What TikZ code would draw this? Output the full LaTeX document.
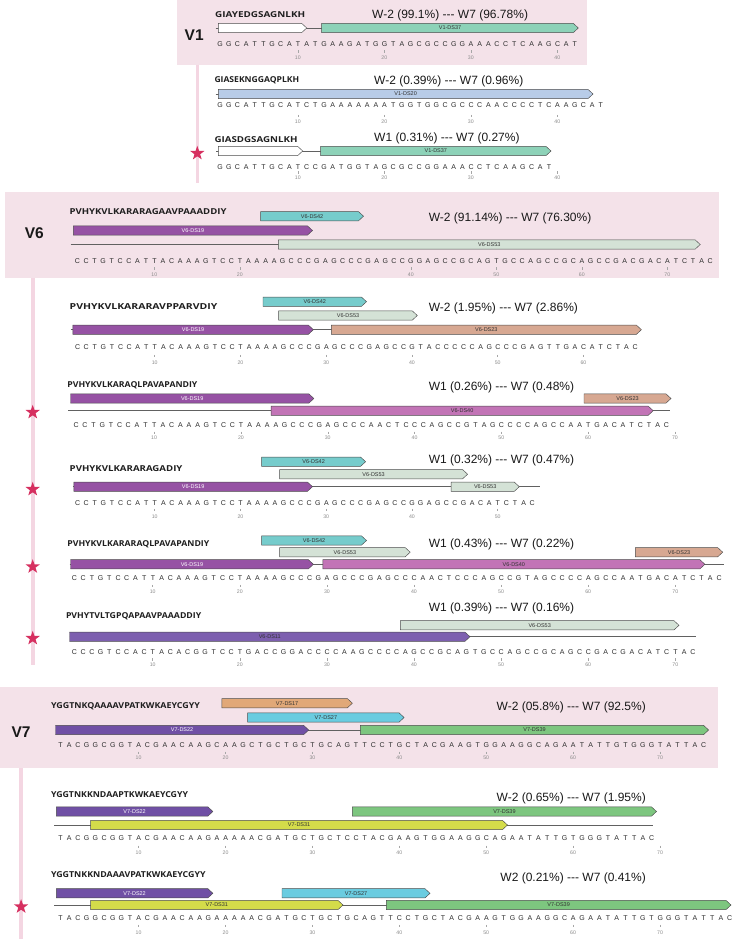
\documentclass[tikz,border=0pt]{standalone}
\usepackage{fontspec}
\setmainfont{Liberation Sans}
\newfontfamily\pepfont{Open Sans}
\usepackage{graphicx}
\usetikzlibrary{shapes.geometric}
\definecolor{panel}{RGB}{244,226,233}
\definecolor{vlinec}{RGB}{244,214,226}
\definecolor{starc}{RGB}{214,48,96}
\definecolor{seqc}{RGB}{45,45,45}
\definecolor{labd}{RGB}{50,50,50}
\definecolor{cmint}{RGB}{141,210,184}
\definecolor{cblue}{RGB}{184,204,232}
\definecolor{cteal}{RGB}{118,204,204}
\definecolor{cpurp}{RGB}{150,82,164}
\definecolor{cpale}{RGB}{212,226,214}
\definecolor{csalm}{RGB}{215,168,146}
\definecolor{corch}{RGB}{194,116,182}
\definecolor{cviol}{RGB}{125,95,175}
\definecolor{corng}{RGB}{225,168,120}
\definecolor{csky}{RGB}{106,204,224}
\definecolor{cpurp7}{RGB}{112,80,165}
\definecolor{cgrn}{RGB}{125,198,127}
\definecolor{cyel}{RGB}{212,220,74}
\newlength\sqw
\newcommand\sqbox[1]{\sqaux#1\relax}
\def\sqaux#1{\ifx\relax#1\else\hbox to\sqw{\hss#1\hss}\expandafter\sqaux\fi}
\def\fh{4.6}
\def\ft{5}
% name, x1, x2, y, fill, label, label colour
\newcommand\feat[7]{%
  \draw[featbox, fill=#5] (#2,{#4-\fh}) -- ({#3-\ft},{#4-\fh}) -- (#3,#4) -- ({#3-\ft},{#4+\fh}) -- (#2,{#4+\fh}) -- cycle;
  \node[featlab, text=#7] (#1) at ({(#2+#3)/2},#4) {#6};}
% name, x0, dx, y, string
\newcommand\seqrow[5]{%
  \node[seqtxt, anchor=west] (#1) at ({#2-#3/2},#4) {\setlength\sqw{#3pt}\sqbox{#5}};}
% prefix, x0, dx, tick y, number y, list
\newcommand\ticksrow[6]{%
  \foreach \n in {#6} {
    \draw[tickmark] ({#2+(\n-1)*#3},{#4-1.2}) -- ({#2+(\n-1)*#3},{#4+1.2});
    \node[ticknum] (#1\n) at ({#2+(\n-1)*#3},#5) {\n};
  }}
% name, x, y, width, text
\newcommand\pep[5]{%
  \node[anchor=west, inner sep=0, text=black!88] (#1) at (#2,#3) {\resizebox{#4pt}{5.9pt}{\pepfont\bfseries #5}};}
\begin{document}
\begin{tikzpicture}[x=1pt,y=-1pt,
  featbox/.style={draw=black!70, line width=0.45pt, line join=miter},
  featlab/.style={font=\fontsize{5.5}{6}\selectfont, inner sep=0},
  bb/.style={draw=black!62, line width=0.7pt},
  seqtxt/.style={font=\fontsize{7}{8}\selectfont, text=seqc, inner sep=0},
  tickmark/.style={draw=black!35, line width=0.4pt},
  ticknum/.style={font=\fontsize{5.2}{6}\selectfont, text=black!45, inner sep=0},
  wtxt/.style={font=\fontsize{12}{14}\selectfont, text=black!90, inner sep=0},
  vlab/.style={font=\fontsize{15.5}{18}\selectfont\bfseries, text=black!90, inner sep=0},
  stari/.style={star, star points=5, star point ratio=2.5, fill=starc, draw=none, minimum size=15pt, inner sep=0},
  vline/.style={draw=vlinec, line width=3.6pt}]
\useasboundingbox (0,0) rectangle (733,939);
\fill[white] (0,0) rectangle (733,939);
% panels and stems
\fill[panel] (177,0) rectangle (587,65);
\draw[vline] (197.3,65) -- (197.3,183);
\fill[panel] (5,191.7) rectangle (719,278);
\draw[vline] (32.7,278) -- (32.7,665);
\fill[panel] (0,686.7) rectangle (718,768.3);
\draw[vline] (21.1,768.3) -- (21.1,939);
\node[vlab] (V1) at (194.2,35) {V1};
\node[vlab] (V6) at (34.3,233.5) {V6};
\node[vlab] (V7) at (21.1,732.3) {V7};

% ================= V1 row 1
\pep{p11}{215}{14.3}{90}{GIAYEDGSAGNLKH}
\node[wtxt, anchor=base west] (w11) at (372,18.3) {W-2 (99.1\%) -{}-{}- W7 (96.78\%)};
\draw[bb] (215.7,28) -- (321.7,28);
\feat{f11a}{218.3}{306.7}{28}{white}{}{labd}
\feat{f11b}{321.7}{578.3}{28}{cmint}{V1-DS37}{labd}
\seqrow{s11}{220}{8.65}{44}{GGCATTGCATATGAAGATGGTAGCGCCGGAAACCTCAAGCAT}
\ticksrow{t11-}{220}{8.65}{51.7}{57.3}{10,20,30,40}

% ================= V1 row 2
\pep{p12}{214.3}{80.7}{84.7}{GIASEKNGGAQPLKH}
\node[wtxt, anchor=base west] (w12) at (374,84.3) {W-2 (0.39\%) -{}-{}- W7 (0.96\%)};
\draw[bb] (215.7,94) -- (590,94);
\feat{f12a}{218.3}{593}{94}{cblue}{V1-DS20}{labd}
\seqrow{s12}{220}{8.65}{105}{GGCATTGCATCTGAAAAAAATGGTGGCGCCCAACCCCTCAAGCAT}
\ticksrow{t12-}{220}{8.65}{116}{121.5}{10,20,30,40}

% ================= V1 row 3
\pep{p13}{214.3}{139.3}{83}{GIASDGSAGNLKH}
\node[wtxt, anchor=base west] (w13) at (374,141) {W1 (0.31\%) -{}-{}- W7 (0.27\%)};
\draw[bb] (216,151) -- (321,151);
\feat{f13a}{218.3}{302.7}{151}{white}{}{labd}
\feat{f13b}{320.7}{551}{151}{cmint}{V1-DS37}{labd}
\seqrow{s13}{220}{8.65}{166.7}{GGCATTGCATCCGATGGTAGCGCCGGAAACCTCAAGCAT}
\ticksrow{t13-}{220}{8.65}{172.5}{177.5}{10,20,30,40}
\node[stari] (st13) at (197.3,153.3) {};

% ================= V6 row 1
\pep{p61}{69.3}{211.7}{157}{PVHYKVLKARARAGAAVPAAADDIY}
\node[wtxt, anchor=base west] (w61) at (428.6,221) {W-2 (91.14\%) -{}-{}- W7 (76.30\%)};
\feat{f61a}{260.7}{363.5}{216.2}{cteal}{V6-DS42}{labd}
\feat{f61b}{73.3}{312.5}{230.5}{cpurp}{V6-DS19}{white}
\draw[bb] (70.7,244.5) -- (280,244.5);
\feat{f61c}{278.3}{700.2}{244.5}{cpale}{V6-DS53}{labd}
\seqrow{s61}{77.3}{8.55}{260.7}{CCTGTCCATTACAAAGTCCTAAAAGCCCGAGCCCGAGCCGGAGCCGCAGTGCCAGCCGCAGCCGACGACATCTAC}
\ticksrow{t61-}{77.3}{8.55}{268.3}{274.3}{10,20,40,50,60,70}

% ================= V6 row 2
\pep{p62}{69.5}{306.7}{147.6}{PVHYKVLKARARAVPPARVDIY}
\node[wtxt, anchor=base west] (w62) at (428.6,311) {W-2 (1.95\%) -{}-{}- W7 (2.86\%)};
\feat{f62a}{263}{366.5}{301.7}{cteal}{V6-DS42}{labd}
\feat{f62b}{278.7}{417.3}{315.5}{cpale}{V6-DS53}{labd}
\draw[bb] (70.5,329.7) -- (335,329.7);
\feat{f62c}{72.8}{313.4}{329.7}{cpurp}{V6-DS19}{white}
\feat{f62d}{331.3}{641.4}{329.7}{csalm}{V6-DS23}{labd}
\seqrow{s62}{77.5}{8.575}{347.3}{CCTGTCCATTACAAAGTCCTAAAAGCCCGAGCCCGAGCCGTACCCCCAGCCCGAGTTGACATCTAC}
\ticksrow{t62-}{77.5}{8.575}{356}{362.3}{10,20,30,40,50,60}

% ================= V6 row 3
\pep{p63}{67.2}{385}{130}{PVHYKVLKARAQLPAVAPANDIY}
\node[wtxt, anchor=base west] (w63) at (428.6,390.3) {W1 (0.26\%) -{}-{}- W7 (0.48\%)};
\feat{f63a}{70.5}{313.9}{398.5}{cpurp}{V6-DS19}{white}
\feat{f63b}{584}{671}{398.5}{csalm}{V6-DS23}{labd}
\draw[bb] (68.1,410.7) -- (669.6,410.7);
\feat{f63c}{271.1}{653.2}{410.7}{corch}{V6-DS40}{labd}
\seqrow{s63}{76}{8.68}{425}{CCTGTCCATTACAAAGTCCTAAAAGCCCGAGCCCAACTCCCAGCCGTAGCCCCAGCCAATGACATCTAC}
\ticksrow{t63-}{76}{8.68}{432.7}{437.5}{10,20,30,40,50,60,70}
\node[stari] (st63) at (32.7,412.3) {};

% ================= V6 row 4
\pep{p64}{69.5}{469}{112.8}{PVHYKVLKARARAGADIY}
\node[wtxt, anchor=base west] (w64) at (428.6,463.6) {W1 (0.32\%) -{}-{}- W7 (0.47\%)};
\feat{f64a}{261.7}{365.6}{461.7}{cteal}{V6-DS42}{labd}
\feat{f64b}{279.6}{467.6}{474.2}{cpale}{V6-DS53}{labd}
\draw[bb] (72.8,486.7) -- (539.5,486.7);
\feat{f64c}{73.8}{312.5}{486.7}{cpurp}{V6-DS19}{white}
\feat{f64d}{451.1}{519.3}{486.7}{cpale}{V6-DS53}{labd}
\seqrow{s64}{77.5}{8.575}{502.7}{CCTGTCCATTACAAAGTCCTAAAAGCCCGAGCCCGAGCCGGAGCCGACATCTAC}
\ticksrow{t64-}{77.5}{8.575}{510}{516.7}{10,20,30,40,50}
\node[stari] (st64) at (32.7,489.3) {};

% ================= V6 row 5
\pep{p65}{67.2}{544}{141.9}{PVHYKVLKARARAQLPAVAPANDIY}
\node[wtxt, anchor=base west] (w65) at (428.6,547.6) {W1 (0.43\%) -{}-{}- W7 (0.22\%)};
\feat{f65a}{261.7}{366.5}{540.5}{cteal}{V6-DS42}{labd}
\feat{f65b}{279.6}{410.2}{552.2}{cpale}{V6-DS53}{labd}
\feat{f65c}{635.3}{722.7}{552.2}{csalm}{V6-DS23}{labd}
\draw[bb] (69.5,564.3) -- (723.7,564.3);
\feat{f65d}{70.5}{313.4}{564.3}{cpurp}{V6-DS19}{white}
\feat{f65e}{322.8}{704.9}{564.3}{corch}{V6-DS40}{labd}
\seqrow{s65}{74.3}{8.71}{578.3}{CCTGTCCATTACAAAGTCCTAAAAGCCCGAGCCCGAGCCCAACTCCCAGCCGTAGCCCCAGCCAATGACATCTAC}
\ticksrow{t65-}{74.3}{8.71}{586}{591.7}{10,20,30,40,50,60,70}
\node[stari] (st65) at (32.7,566.7) {};

% ================= V6 row 6
\pep{p66}{65.8}{616.7}{135.3}{PVHYTVLTGPQAPAAVPAAADDIY}
\node[wtxt, anchor=base west] (w66) at (428.6,611) {W1 (0.39\%) -{}-{}- W7 (0.16\%)};
\feat{f66a}{400.4}{679}{625.3}{cpale}{V6-DS53}{labd}
\draw[bb] (69.5,636.7) -- (695.5,636.7);
\feat{f66b}{69.5}{470}{636.7}{cviol}{V6-DS11}{labd}
\seqrow{s66}{74.3}{8.71}{651.7}{CCCGTCCACTACACGGTCCTGACCGGACCCCAAGCCCCAGCCGCAGTGCCAGCCGCAGCCGACGACATCTAC}
\ticksrow{t66-}{74.3}{8.71}{659.3}{665}{10,20,30,40,50,60,70}
\node[stari] (st66) at (32.7,638.3) {};

% ================= V7 row 1
\pep{p71}{50.8}{706.7}{149}{YGGTNKQAAAAVPATKWKAEYCGYY}
\node[wtxt, anchor=base east] (w71) at (646,710) {W-2 (05.8\%) -{}-{}- W7 (92.5\%)};
\feat{f71a}{221.8}{352.4}{703.2}{corng}{V7-DS17}{labd}
\feat{f71b}{247.7}{404.1}{717.5}{csky}{V7-DS27}{labd}
\draw[bb] (55.5,730) -- (362,730);
\feat{f71c}{55.5}{308.7}{730}{cpurp7}{V7-DS22}{white}
\feat{f71d}{360.4}{708.6}{730}{cgrn}{V7-DS39}{labd}
\seqrow{s71}{60.4}{8.69}{745}{TACGGCGGTACGAACAAGCAAGCTGCTGCTGCAGTTCCTGCTACGAAGTGGAAGGCAGAATATTGTGGGTATTAC}
\ticksrow{t71-}{60.4}{8.69}{752.7}{757.7}{10,20,30,40,50,60,70}

% ================= V7 row 2
\pep{p72}{50.8}{795}{137}{YGGTNKKNDAAPTKWKAEYCGYY}
\node[wtxt, anchor=base east] (w72) at (646,801) {W-2 (0.65\%) -{}-{}- W7 (1.95\%)};
\feat{f72a}{56.4}{212.9}{811.5}{cpurp7}{V7-DS22}{white}
\feat{f72b}{352.4}{656.5}{811.5}{cgrn}{V7-DS39}{labd}
\draw[bb] (54,825) -- (653.2,825);
\feat{f72c}{90.7}{507.5}{825}{cyel}{V7-DS31}{labd}
\seqrow{s72}{60.4}{8.69}{838.3}{TACGGCGGTACGAACAAGAAAAACGATGCTGCTCCTACGAAGTGGAAGGCAGAATATTGTGGGTATTAC}
\ticksrow{t72-}{60.4}{8.69}{846.7}{852.3}{10,20,30,40,50,60,70}

% ================= V7 row 3
\pep{p73}{50.8}{875}{154.6}{YGGTNKKNDAAAVPATKWKAEYCGYY}
\node[wtxt, anchor=base east] (w73) at (646,881) {W2 (0.21\%) -{}-{}- W7 (0.41\%)};
\feat{f73a}{56.4}{212.9}{893.3}{cpurp7}{V7-DS22}{white}
\feat{f73b}{282}{430}{893.3}{csky}{V7-DS27}{labd}
\draw[bb] (54,905) -- (390,905);
\feat{f73c}{90.7}{343}{905}{cyel}{V7-DS31}{labd}
\feat{f73d}{386.3}{731}{905}{cgrn}{V7-DS39}{labd}
\seqrow{s73}{60.4}{8.69}{918.3}{TACGGCGGTACGAACAAGAAAAACGATGCTGCTGCAGTTCCTGCTACGAAGTGGAAGGCAGAATATTGTGGGTATTAC}
\ticksrow{t73-}{60.4}{8.69}{926}{932.3}{10,20,30,40,50,60,70}
\node[stari] (st73) at (21.1,906.7) {};
\end{tikzpicture}
\end{document}
